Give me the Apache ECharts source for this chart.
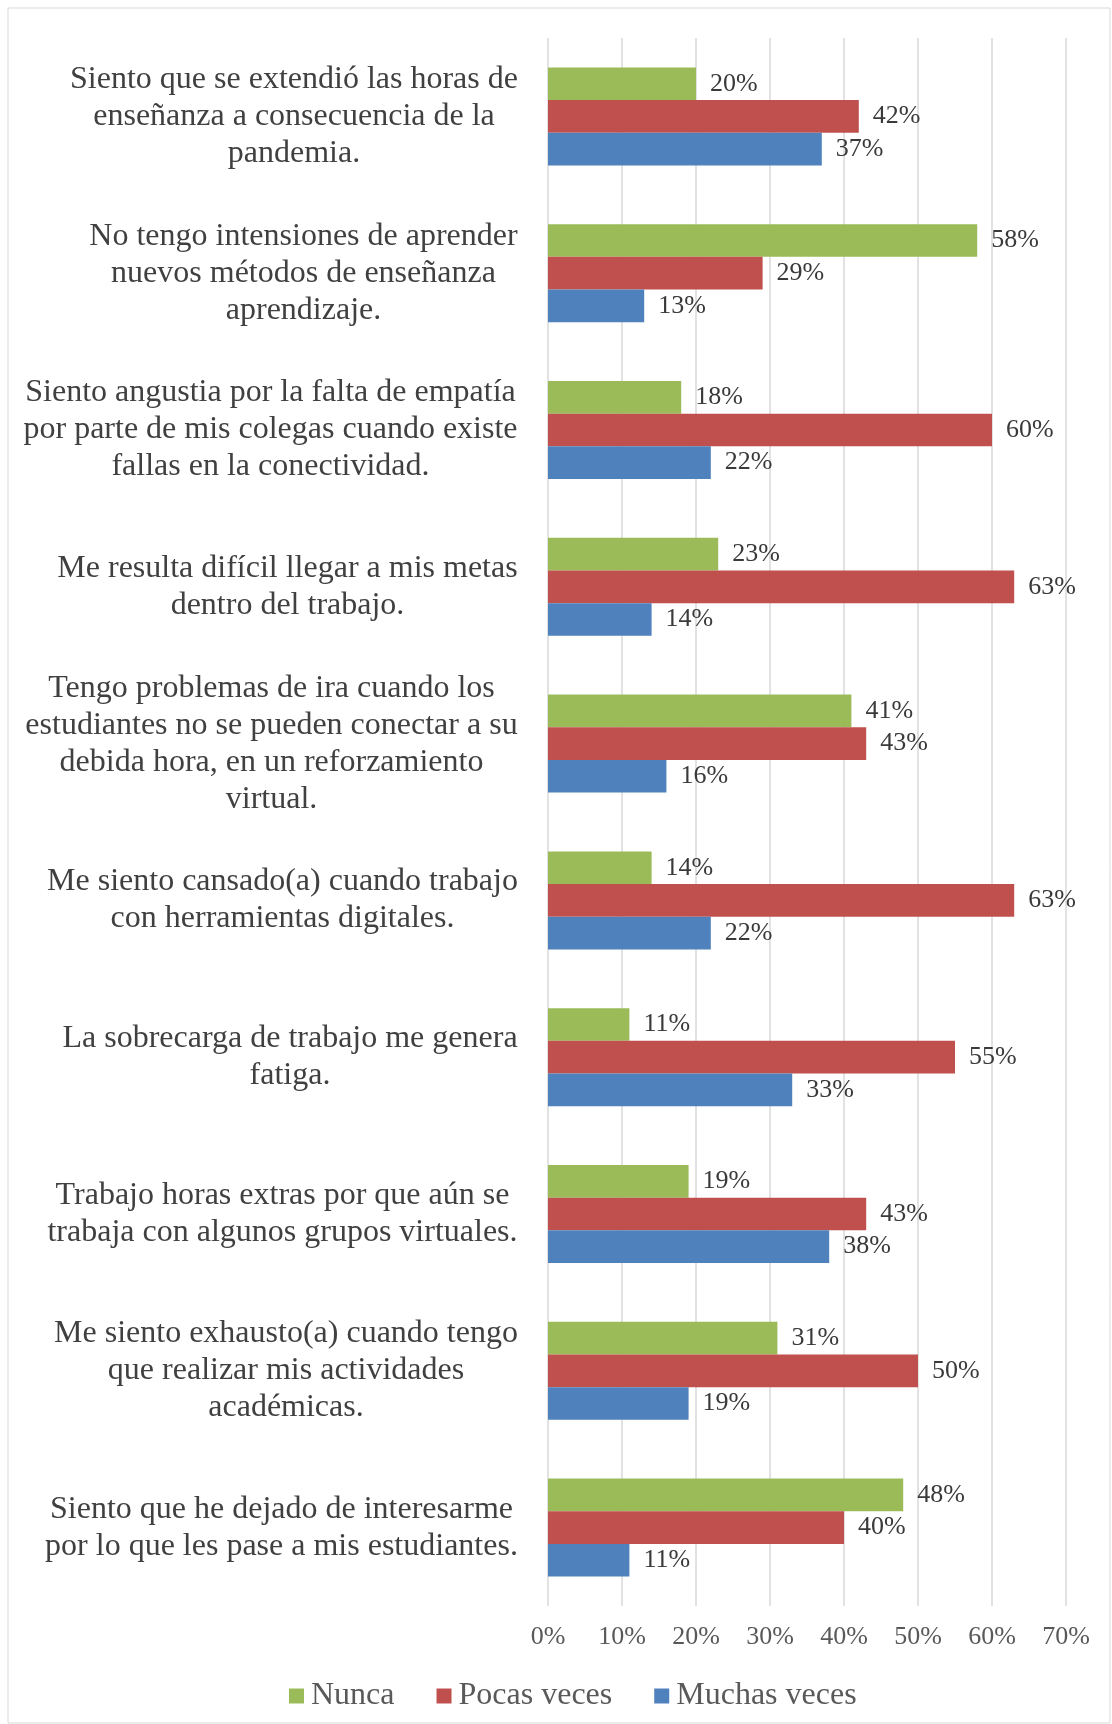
<!DOCTYPE html>
<html>
<head>
<meta charset="utf-8">
<script src="https://cdn.jsdelivr.net/npm/echarts@6/dist/echarts.min.js"></script>
<style>
  html, body { margin: 0; padding: 0; background: #fff; }
  #chart { width: 1112px; height: 1724px; }
</style>
</head>
<body>
<div id="chart"></div>
<script>
const categories = [
  "Siento que se extendió las horas de\nenseñanza a consecuencia de la\npandemia.",
  "No tengo intensiones de aprender\nnuevos métodos de enseñanza\naprendizaje.",
  "Siento angustia por la falta de empatía\npor parte de mis colegas cuando existe\nfallas en la conectividad.",
  "Me resulta difícil llegar a mis metas\ndentro del trabajo.",
  "Tengo problemas de ira cuando los\nestudiantes no se pueden conectar a su\ndebida hora, en un reforzamiento\nvirtual.",
  "Me siento cansado(a) cuando trabajo\ncon herramientas digitales.",
  "La sobrecarga de trabajo me genera\nfatiga.",
  "Trabajo horas extras por que aún se\ntrabaja con algunos grupos virtuales.",
  "Me siento exhausto(a) cuando tengo\nque realizar mis actividades\nacadémicas.",
  "Siento que he dejado de interesarme\npor lo que les pase a mis estudiantes."
];

const nuncaData = [20, 58, 18, 23, 41, 14, 11, 19, 31, 48];
const pocasData = [42, 29, 60, 63, 43, 63, 55, 43, 50, 40];
const muchasData = [37, 13, 22, 14, 16, 22, 33, 38, 19, 11];

const seriesNames = ['Nunca', 'Pocas veces', 'Muchas veces'];
const seriesColors = ['#9BBB59', '#C0504D', '#4F81BD'];

const serifFont = '"Liberation Serif", "Times New Roman", serif';

// each label block sits right-aligned against the axis, its lines centered inside it
const measureCtx = document.createElement('canvas').getContext('2d');
measureCtx.font = '32px "Liberation Serif"';
const labelRich = {};
categories.forEach((cat, i) => {
  const widest = Math.max(...cat.split('\n').map(l => measureCtx.measureText(l).width));
  labelRich['c' + i] = {
    width: Math.ceil(widest) + 2,
    align: 'center',
    color: '#404040',
    fontFamily: serifFont,
    fontSize: 32,
    lineHeight: 37
  };
});

const makeSeries = (name, data, color) => ({
  name: name,
  type: 'bar',
  data: data,
  barGap: '0%',
  barCategoryGap: '37.5%',
  itemStyle: { color: color },
  label: {
    show: true,
    position: 'right',
    distance: 14,
    formatter: '{c}%',
    color: '#3a3a3a',
    fontFamily: serifFont,
    fontSize: 26
  }
});

const chart = echarts.init(document.getElementById('chart'), null, { renderer: 'canvas' });

chart.setOption({
  animation: false,
  backgroundColor: '#ffffff',
  graphic: [{
    type: 'rect',
    shape: { x: 8, y: 8, width: 1102, height: 1715 },
    style: { fill: 'none', stroke: '#d9d9d9', lineWidth: 1 },
    silent: true
  }],
  legend: {
    data: seriesNames,
    left: 284,
    top: 1675,
    itemWidth: 15,
    itemHeight: 15,
    itemGap: 42,
    icon: 'rect',
    textStyle: {
      color: '#595959',
      fontFamily: serifFont,
      fontSize: 32,
      padding: [0, 0, 0, 2]
    }
  },
  grid: {
    left: 548,
    right: 46,
    top: 38,
    bottom: 118,
    containLabel: false
  },
  xAxis: {
    type: 'value',
    min: 0,
    max: 70,
    interval: 10,
    axisLine: { show: false },
    axisTick: { show: false },
    splitLine: { lineStyle: { color: '#d9d9d9', width: 1.5 } },
    axisLabel: {
      formatter: '{value}%',
      color: '#595959',
      fontFamily: serifFont,
      fontSize: 26,
      margin: 18
    }
  },
  yAxis: {
    type: 'category',
    inverse: true,
    data: categories,
    axisLine: { show: false },
    axisTick: { show: false },
    axisLabel: {
      align: 'right',
      margin: 29,
      lineHeight: 37,
      formatter: (value, index) => value.split('\n').map(l => '{c' + index + '|' + l + '}').join('\n'),
      rich: labelRich
    }
  },
  series: [
    makeSeries(seriesNames[0], nuncaData, seriesColors[0]),
    makeSeries(seriesNames[1], pocasData, seriesColors[1]),
    makeSeries(seriesNames[2], muchasData, seriesColors[2])
  ]
});
</script>
</body>
</html>
